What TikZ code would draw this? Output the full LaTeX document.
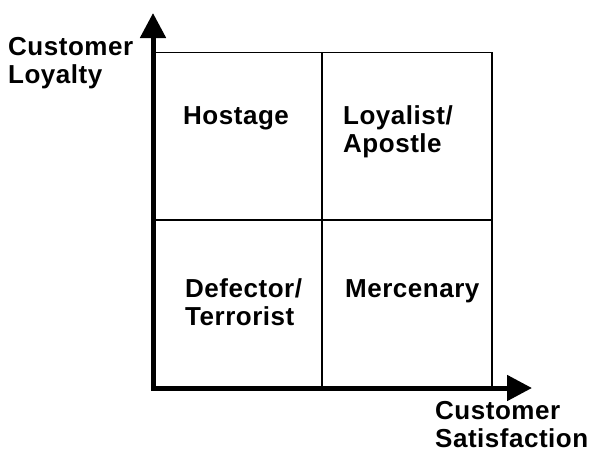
\documentclass[tikz,border=0pt]{standalone}
\usepackage{fontspec}
\setmainfont{Liberation Sans}[LetterSpace=2]
\usetikzlibrary{arrows.meta}

\def \axiswidth {5pt}
\def \tipsize {25pt}
\def \labelfont {\fontsize{26}{27.5}\selectfont\bfseries}

\begin{document}
\begin{tikzpicture}[x=1pt, y=-1pt,
  lbl/.style={anchor=base west, inner sep=0pt, align=left, font=\labelfont},
  axis/.style={line width=\axiswidth, line join=miter,
    {Triangle[length=\tipsize, width=\tipsize]}-{Triangle[length=\tipsize, width=\tipsize]}},
  frame/.style={line width=1.2pt},
  split/.style={line width=2pt}]
\useasboundingbox (0,0) rectangle (591,456);

% corners of the grid
\coordinate (origin) at (153,388);
\coordinate (ytip) at (153,13);
\coordinate (xtip) at (532,388);
\coordinate (topleft) at (153,52.5);
\coordinate (topright) at (492,52.5);
\coordinate (bottomright) at (492,388);
\coordinate (midtop) at (322,52.5);
\coordinate (midbottom) at (322,388);
\coordinate (midleft) at (153,220);
\coordinate (midright) at (492,220);

\draw[frame] (topleft) -- (topright) -- (bottomright); % outer box
\draw[split] (midtop) -- (midbottom); % satisfaction split
\draw[split] (midleft) -- (midright); % loyalty split
\draw[axis] (ytip) -- (origin) -- (xtip);

% base of a two line label is its last line
\node[lbl] (yname) at (8,83) {Customer\\Loyalty};
\node[lbl] (hostage) at (183,124) {Hostage};
\node[lbl] (loyalist) at (343,152) {Loyalist/\\Apostle};
\node[lbl] (defector) at (185,325) {Defector/\\Terrorist};
\node[lbl] (mercenary) at (345,297) {Mercenary};
\node[lbl] (xname) at (435,447) {Customer\\Satisfaction};
\end{tikzpicture}
\end{document}
